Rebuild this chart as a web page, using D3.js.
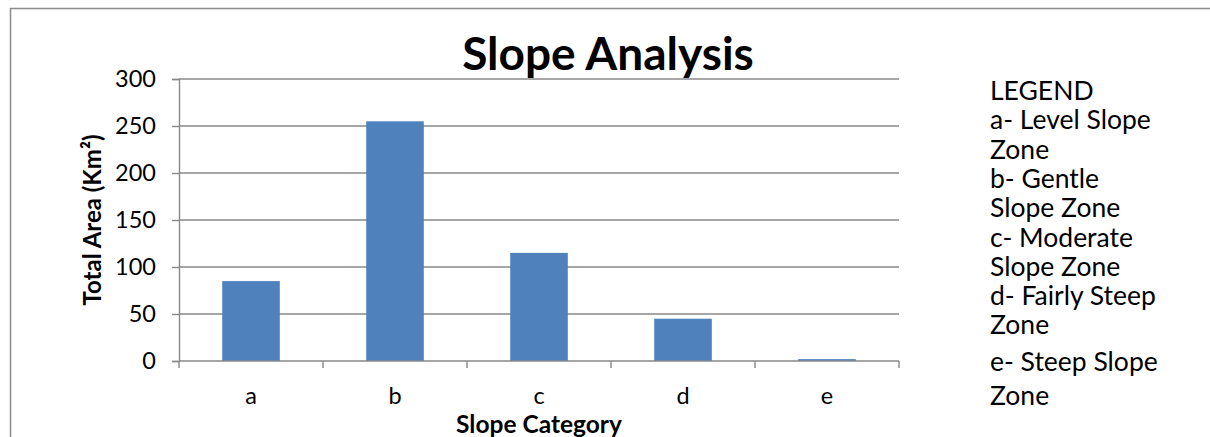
<!DOCTYPE html>
<html>
<head>
<meta charset="utf-8">
<script src="https://cdn.jsdelivr.net/npm/d3@7"></script>
<style>
  html, body { margin: 0; padding: 0; background: #fff; }
  svg { display: block; font-family: Lato, "Open Sans", sans-serif; }
</style>
</head>
<body>
<svg id="chart" width="1210" height="437"></svg>
<script>
// Slope categories and their total area (km²)
const categories = ["a", "b", "c", "d", "e"];
const areaValues = [85, 255, 115, 45, 2];
const yTicks = [0, 50, 100, 150, 200, 250, 300];

const legendLines = [
  "LEGEND",
  "a- Level Slope",
  "Zone",
  "b- Gentle",
  "Slope Zone",
  "c- Moderate",
  "Slope Zone",
  "d- Fairly Steep",
  "Zone",
  "e- Steep Slope",
  "Zone"
];

const svg = d3.select("#chart");
const gridColor = "#888888";
const barColor = "#4F81BD";

const plot = { left: 179, right: 899, top: 79, bottom: 361 };

const x = d3.scaleBand()
  .domain(categories)
  .range([plot.left, plot.right])
  .paddingInner(0.6)
  .paddingOuter(0.3);

const y = d3.scaleLinear()
  .domain([0, 300])
  .range([plot.bottom, plot.top]);

// outer frame (left and top edges)
svg.append("path")
  .attr("d", "M10.5,437 V8.5 H1210")
  .attr("fill", "none")
  .attr("stroke", "#8c8c8c")
  .attr("stroke-width", 1.5);

// horizontal gridlines
svg.append("g")
  .selectAll("line")
  .data(yTicks.filter(d => d > 0))
  .join("line")
  .attr("x1", plot.left)
  .attr("x2", plot.right)
  .attr("y1", d => y(d))
  .attr("y2", d => y(d))
  .attr("stroke", gridColor)
  .attr("stroke-width", 1.4);

// bars
svg.append("g")
  .selectAll("rect")
  .data(categories.map((c, i) => ({ c, v: areaValues[i] })))
  .join("rect")
  .attr("x", d => x(d.c))
  .attr("width", x.bandwidth())
  .attr("y", d => y(d.v))
  .attr("height", d => y(0) - y(d.v))
  .attr("fill", barColor);

// y axis
const yAxis = svg.append("g")
  .attr("transform", `translate(${plot.left},0)`)
  .call(d3.axisLeft(y).tickValues(yTicks).tickSize(7).tickPadding(16));
yAxis.select(".domain").attr("stroke", gridColor).attr("stroke-width", 1.4);
yAxis.selectAll(".tick line").attr("stroke", gridColor).attr("stroke-width", 1.4);
yAxis.selectAll(".tick text")
  .attr("fill", "#000")
  .attr("font-size", 23.5)
  .attr("font-family", "Lato, sans-serif");

// x axis: baseline, boundary ticks, category labels
const xg = svg.append("g");
xg.append("line")
  .attr("x1", plot.left).attr("x2", plot.right)
  .attr("y1", y(0)).attr("y2", y(0))
  .attr("stroke", gridColor).attr("stroke-width", 1.4);
const step = x.step();
const boundaries = d3.range(categories.length + 1).map(i => plot.left + i * step);
xg.selectAll("line.tick")
  .data(boundaries)
  .join("line")
  .attr("class", "tick")
  .attr("x1", d => d).attr("x2", d => d)
  .attr("y1", y(0)).attr("y2", y(0) + 7)
  .attr("stroke", gridColor).attr("stroke-width", 1.4);
xg.selectAll("text")
  .data(categories)
  .join("text")
  .attr("x", d => x(d) + x.bandwidth() / 2)
  .attr("y", 404)
  .attr("text-anchor", "middle")
  .attr("font-size", 23.5)
  .text(d => d);

// title
svg.append("text")
  .attr("x", 608)
  .attr("y", 70)
  .attr("text-anchor", "middle")
  .attr("font-size", 46)
  .attr("font-weight", "bold")
  .text("Slope Analysis");

// axis titles
svg.append("text")
  .attr("x", (plot.left + plot.right) / 2)
  .attr("y", 433)
  .attr("text-anchor", "middle")
  .attr("font-size", 24.5)
  .attr("font-weight", "bold")
  .text("Slope Category");

svg.append("text")
  .attr("transform", `translate(101,${(plot.top + plot.bottom) / 2}) rotate(-90)`)
  .attr("text-anchor", "middle")
  .attr("font-size", 24)
  .attr("font-weight", "bold")
  .text("Total Area (Km²)");

// legend text block
svg.append("g")
  .selectAll("text")
  .data(legendLines)
  .join("text")
  .attr("x", 990)
  .attr("y", (d, i) => 100 + i * 29.3 + (i >= 9 ? 7 : 0) + (i >= 10 ? 5 : 0))
  .attr("font-size", 26.5)
  .text(d => d);
</script>
</body>
</html>
